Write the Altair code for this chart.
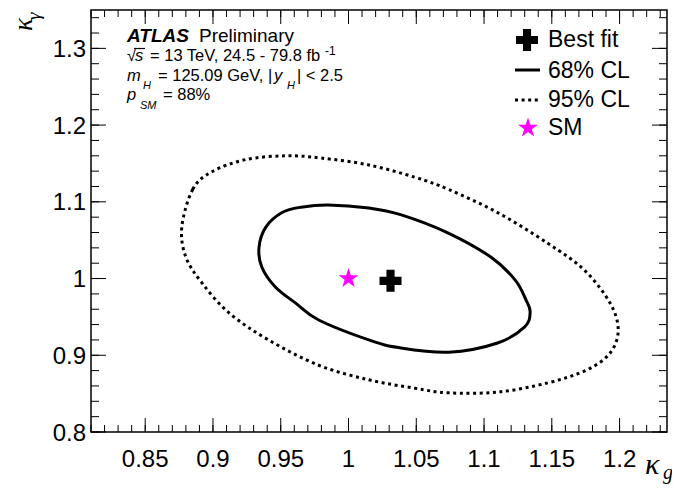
import math
import altair as alt
import pandas as pd

# ---------------- data ----------------
x_domain = [0.81, 1.235]
y_domain = [0.8, 1.35]

cl68_kq = [0.934, 0.939, 0.951, 0.965, 0.985, 1.015, 1.039, 1.074, 1.105, 1.123, 1.131,
           1.134, 1.130, 1.110, 1.074, 1.037, 1.015, 0.978, 0.961, 0.946, 0.936]
cl68_kg = [1.041, 1.067, 1.086, 1.093, 1.096, 1.092, 1.083, 1.059, 1.028, 0.998, 0.972,
           0.956, 0.937, 0.916, 0.904, 0.910, 0.920, 0.946, 0.968, 0.989, 1.015]

cl95_kq = [0.877, 0.885, 0.899, 0.924, 0.954, 0.980, 1.015, 1.049, 1.074, 1.110, 1.147, 1.174, 1.193,
           1.199, 1.193, 1.176, 1.147, 1.110, 1.074, 1.049, 1.015, 0.978, 0.941, 0.912, 0.892, 0.880]
cl95_kg = [1.067, 1.116, 1.139, 1.155, 1.160, 1.157, 1.148, 1.132, 1.116, 1.086, 1.046, 1.011, 0.968,
           0.933, 0.903, 0.881, 0.864, 0.852, 0.851, 0.857, 0.868, 0.887, 0.920, 0.955, 0.994, 1.028]

best_kq = [1.031]
best_kg = [0.997]
sm_kq = [1.0]
sm_kg = [1.0]

x_major = [0.85, 0.9, 0.95, 1.0, 1.05, 1.1, 1.15, 1.2]
x_labels = ["0.85", "0.9", "0.95", "1", "1.05", "1.1", "1.15", "1.2"]
x_minor = [round(0.81 + 0.01 * i, 2) for i in range(43)]
y_major = [0.8, 0.9, 1.0, 1.1, 1.2, 1.3]
y_labels = ["0.8", "0.9", "1", "1.1", "1.2", "1.3"]
y_minor = [round(0.8 + 0.02 * i, 2) for i in range(28)]

legend_labels = ["Best fit", "68% CL", "95% CL", "SM"]

# ---------------- layout / style ----------------
W, H = 576, 422
FONT = "Liberation Sans"
SERIF = "Liberation Serif"

xs = alt.Scale(domain=x_domain, nice=False, zero=False)
ys = alt.Scale(domain=y_domain, nice=False, zero=False)

CROSS = ("M-1,-0.37L-0.37,-0.37L-0.37,-1L0.37,-1L0.37,-0.37L1,-0.37L1,0.37L0.37,0.37"
         "L0.37,1L-0.37,1L-0.37,0.37L-1,0.37Z")
pts = []
for k in range(10):
    r = 1.0 if k % 2 == 0 else 0.382
    a = math.radians(-90 + 36 * k)
    pts.append(f"{r*math.cos(a):.4f},{r*math.sin(a):.4f}")
STAR = "M" + "L".join(pts) + "Z"


def X(f):
    return alt.X(f, scale=xs, axis=None)


def Y(f):
    return alt.Y(f, scale=ys, axis=None)


df68 = pd.DataFrame({"kq": cl68_kq, "kg": cl68_kg, "i": range(len(cl68_kq))})
df95 = pd.DataFrame({"kq": cl95_kq, "kg": cl95_kg, "i": range(len(cl95_kq))})

line68 = alt.Chart(df68).mark_line(interpolate="cardinal-closed", color="black", strokeWidth=3).encode(
    x=X("kq:Q"), y=Y("kg:Q"), order="i:Q")
line95 = alt.Chart(df95).mark_line(interpolate="cardinal-closed", color="black", strokeWidth=3,
                                   strokeDash=[3, 3.6], strokeCap="butt").encode(
    x=X("kq:Q"), y=Y("kg:Q"), order="i:Q")

best = alt.Chart(pd.DataFrame({"kq": best_kq, "kg": best_kg})).mark_point(
    shape=CROSS, filled=True, color="black", opacity=1, size=484).encode(x=X("kq:Q"), y=Y("kg:Q"))
sm = alt.Chart(pd.DataFrame({"kq": sm_kq, "kg": sm_kg})).mark_point(
    shape=STAR, filled=True, color="#ff00ff", opacity=1, size=441).encode(x=X("kq:Q"), y=Y("kg:Q"))

# ---------------- inward ticks on all four sides ----------------
ticks = []
for vals, ln in ((x_minor, 7), (x_major, 14)):
    d = pd.DataFrame({"v": vals})
    ticks.append(alt.Chart(d).mark_rule(color="black", strokeWidth=1).encode(
        x=X("v:Q"), y=alt.value(H), y2=alt.value(H - ln)))
    ticks.append(alt.Chart(d).mark_rule(color="black", strokeWidth=1).encode(
        x=X("v:Q"), y=alt.value(0), y2=alt.value(ln)))
for vals, ln in ((y_minor, 8), (y_major, 15)):
    d = pd.DataFrame({"v": vals})
    ticks.append(alt.Chart(d).mark_rule(color="black", strokeWidth=1).encode(
        y=Y("v:Q"), x=alt.value(0), x2=alt.value(ln)))
    ticks.append(alt.Chart(d).mark_rule(color="black", strokeWidth=1).encode(
        y=Y("v:Q"), x=alt.value(W), x2=alt.value(W - ln)))

# ---------------- tick labels (through the scales) ----------------
xlab = alt.Chart(pd.DataFrame({"v": x_major, "t": x_labels})).mark_text(
    font=FONT, fontSize=24, color="black", align="center", baseline="alphabetic").encode(
    x=X("v:Q"), y=alt.value(457), text="t:N")
ylab = alt.Chart(pd.DataFrame({"v": y_major, "t": y_labels})).mark_text(
    font=FONT, fontSize=24, color="black", align="right", baseline="alphabetic", dy=8.6).encode(
    y=Y("v:Q"), x=alt.value(-5), text="t:N")


def txt(s, x, y, size, style="normal", weight="normal", font=FONT, angle=0, align="left"):
    return alt.Chart(pd.DataFrame({"t": [s]})).mark_text(
        align=align, baseline="alphabetic", fontSize=size, fontStyle=style, fontWeight=weight,
        font=font, angle=angle, color="black").encode(
        text="t:N", x=alt.value(x), y=alt.value(y))


def hrule(x1, x2, y, width=1.0, dash=None):
    kw = dict(color="black", strokeWidth=width)
    if dash:
        kw["strokeDash"] = dash
        kw["strokeCap"] = "butt"
    return alt.Chart(pd.DataFrame({"a": [0]})).mark_rule(**kw).encode(
        x=alt.value(x1), x2=alt.value(x2), y=alt.value(y))


S = 16.5
L2, L3, L4 = 51, 70.5, 89.5
texts = [
    txt("ATLAS", 36, 32, 19, style="italic", weight="bold"),
    txt("Preliminary", 108, 32, 19),
    txt("√", 36, L2, S),
    txt("s", 44, L2, S, style="italic"),
    hrule(43, 54, L2 - 12.5, 1.2),
    txt("= 13 TeV, 24.5 - 79.8 fb", 59, L2, S),
    txt("-1", 234, L2 - 6.5, 12),
    txt("m", 36, L3, S, style="italic"),
    txt("H", 52, L3 + 8, 11, style="italic"),
    txt("= 125.09 GeV, |", 67, L3, S),
    txt("y", 183, L3, S, style="italic"),
    txt("H", 196, L3 + 8, 11, style="italic"),
    txt("| < 2.5", 206, L3, S),
    txt("p", 36, L4, S, style="italic"),
    txt("SM", 49, L4 + 9, 11, style="italic"),
    txt("= 88%", 72, L4, S),
    # axis titles
    txt("κ", -59, 21, 27, style="italic", font=SERIF, angle=270),
    txt("γ", -51, 10, 19, style="italic", font=SERIF, angle=270),
    txt("κ", 554, 464, 30, style="italic", font=SERIF),
    txt("g", 572, 469, 20, style="italic", font=SERIF),
]

# ---------------- hand-drawn legend ----------------
LS = 23
legend = [
    alt.Chart(pd.DataFrame({"a": [0]})).mark_point(
        shape=CROSS, filled=True, color="black", opacity=1, size=484).encode(
        x=alt.value(436), y=alt.value(30)),
    txt(legend_labels[0], 457, 37, LS),
    hrule(424, 449, 60, 3),
    txt(legend_labels[1], 457, 68, LS),
    hrule(424, 449, 90, 3, dash=[3, 3.6]),
    txt(legend_labels[2], 457, 97, LS),
    alt.Chart(pd.DataFrame({"a": [0]})).mark_point(
        shape=STAR, filled=True, color="#ff00ff", opacity=1, size=441).encode(
        x=alt.value(437), y=alt.value(118)),
    txt(legend_labels[3], 457, 125, LS),
]

chart = alt.layer(line68, line95, best, sm, *ticks, xlab, ylab, *texts, *legend).properties(
    width=W, height=H,
    padding={"left": 83, "top": 2, "right": 5, "bottom": 52},
    autosize=alt.AutoSizeParams(type="none"),
    background="white",
).configure_view(stroke="black", strokeWidth=1.5)

chart.save("out.html", embed_options={"renderer": "svg", "actions": False})
